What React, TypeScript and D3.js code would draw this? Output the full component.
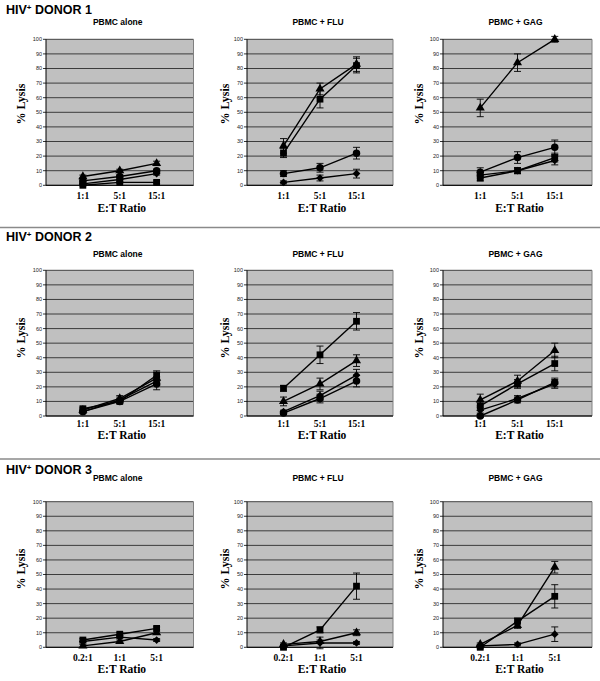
import * as d3 from 'd3';

const ratiosHigh = ['1:1', '5:1', '15:1'];
const ratiosLow = ['0.2:1', '1:1', '5:1'];
const yTicks = [0, 10, 20, 30, 40, 50, 60, 70, 80, 90, 100];
const seriesMarkers = ['diamond', 'square', 'triangle', 'circle'];
const donorLabels = ['DONOR 1', 'DONOR 2', 'DONOR 3'];
const conditionLabels = ['PBMC alone', 'PBMC + FLU', 'PBMC + GAG'];

// values per series, in the order of seriesMarkers
const donor1Alone = [[1, 4, 8], [0, 2, 2], [6, 10, 15], [3, 6, 10]];
const donor1AloneErr = [[0.5, 1, 1], [0.5, 0.5, 1], [1, 1, 1.5], [0.5, 1, 1]];
const donor1Flu = [[2, 5, 8], [22, 59, 82], [27, 66, 83], [8, 12, 22]];
const donor1FluErr = [[1, 2, 3], [3, 6, 5], [5, 4, 5], [2, 3, 4]];
const donor1Gag = [[7, 10, 17], [5, 10, 19], [53, 84, 100], [9, 19, 26]];
const donor1GagErr = [[2, 2, 3], [2, 2, 3], [6, 6, 2], [3, 4, 5]];

const donor2Alone = [[3, 11, 24], [5, 10, 28], [4, 12, 26], [3, 10, 22]];
const donor2AloneErr = [[1, 2, 3], [1, 1, 3], [1, 2, 4], [1, 1, 4]];
const donor2Flu = [[3, 14, 28], [19, 42, 65], [10, 22, 38], [2, 12, 24]];
const donor2FluErr = [[1, 3, 4], [2, 6, 6], [3, 4, 4], [1, 3, 4]];
const donor2Gag = [[4, 12, 22], [7, 22, 36], [11, 24, 45], [0, 11, 23]];
const donor2GagErr = [[2, 2, 3], [3, 3, 5], [4, 4, 5], [1, 2, 3]];

// donor 3: diamond, square, triangle only
const donor3Alone = [[4, 7, 5], [5, 9, 13], [1, 4, 10]];
const donor3AloneErr = [[1, 1, 1], [1, 1, 1], [1, 1, 1]];
const donor3Flu = [[1, 3, 3], [0, 12, 42], [2, 4, 10]];
const donor3FluErr = [[1, 4, 1], [1, 2, 9], [1, 1, 2]];
const donor3Gag = [[1, 2, 9], [0, 18, 35], [2, 15, 55]];
const donor3GagErr = [[1, 1, 5], [1, 2, 8], [1, 2, 4]];

const panelValues = [
  [donor1Alone, donor1Flu, donor1Gag],
  [donor2Alone, donor2Flu, donor2Gag],
  [donor3Alone, donor3Flu, donor3Gag]
];
const panelErrors = [
  [donor1AloneErr, donor1FluErr, donor1GagErr],
  [donor2AloneErr, donor2FluErr, donor2GagErr],
  [donor3AloneErr, donor3FluErr, donor3GagErr]
];
const rowCategories = [ratiosHigh, ratiosHigh, ratiosLow];

// layout
const colLeft = [46, 247, 443];
const colRight = [193.5, 393, 592];
const rowTop = [39.3, 270.3, 501.7];
const rowBottom = [185.3, 416, 647.3];
const donorTitleY = [14, 241, 474];
const panelTitleY = [24.5, 256.5, 481];
const tickLabelY = [198.7, 426.7, 660.7];
const axisTitleY = [212, 439.3, 673];
const lysisX = [20.5, 224.5, 418.5];
const lysisY = [104, 338, 569];
const separatorY = [227.5, 459];

const sans = '"Liberation Sans", Arial, sans-serif';
const serif = '"Liberation Serif", "Times New Roman", serif';

const markerPath = (kind: string) => {
  if (kind === 'diamond') return d3.symbol(d3.symbolSquare, 30)()!;
  if (kind === 'square') return d3.symbol(d3.symbolSquare, 46)()!;
  if (kind === 'triangle') return d3.symbol(d3.symbolTriangle, 36)()!;
  return d3.symbol(d3.symbolCircle, 44)()!;
};

interface PanelProps {
  row: number;
  col: number;
}

function Panel({ row, col }: PanelProps) {
  const left = colLeft[col];
  const right = colRight[col];
  const top = rowTop[row];
  const bottom = rowBottom[row];
  const categories = rowCategories[row];
  const values = panelValues[row][col];
  const errors = panelErrors[row][col];

  const xScale = d3
    .scalePoint<string>()
    .domain(['_start', ...categories, '_end'])
    .range([left, right]);
  const yScale = d3.scaleLinear().domain([0, 100]).range([bottom, top]);

  const line = d3
    .line<number>()
    .x((_, i) => xScale(categories[i])!)
    .y((v) => yScale(v));

  const cx = (left + right) / 2;

  return (
    <g>
      <text
        x={cx - 2}
        y={panelTitleY[row]}
        textAnchor="middle"
        fontFamily={sans}
        fontWeight="bold"
        fontSize="8.5px"
      >
        {conditionLabels[col]}
      </text>
      <rect x={left} y={top} width={right - left} height={bottom - top} fill="#c0c0c0" />
      {yTicks.map((t) => (
        <line
          key={`g${t}`}
          x1={left}
          x2={right}
          y1={yScale(t)}
          y2={yScale(t)}
          stroke="#1a1a1a"
          strokeWidth={0.8}
        />
      ))}
      <line x1={right} x2={right} y1={top} y2={bottom} stroke="#808080" strokeWidth={1} />
      <line x1={left} x2={left} y1={top} y2={bottom} stroke="#000" strokeWidth={1} />
      <line x1={left} x2={right} y1={bottom} y2={bottom} stroke="#000" strokeWidth={1} />
      {yTicks.map((t) => (
        <g key={`t${t}`}>
          <line x1={left - 3} x2={left} y1={yScale(t)} y2={yScale(t)} stroke="#000" strokeWidth={0.8} />
          <text
            x={left - 4}
            y={yScale(t)}
            dy="0.35em"
            textAnchor="end"
            fontFamily={sans}
            fontSize="5.5px"
            fill="#222"
          >
            {t}
          </text>
        </g>
      ))}
      {categories.map((c) => (
        <text
          key={c}
          x={xScale(c)!}
          y={tickLabelY[row]}
          textAnchor="middle"
          fontFamily={serif}
          fontWeight="bold"
          fontSize="9.5px"
        >
          {c}
        </text>
      ))}
      <text
        x={cx + 2}
        y={axisTitleY[row]}
        textAnchor="middle"
        fontFamily={serif}
        fontWeight="bold"
        fontSize="11.5px"
      >
        E:T Ratio
      </text>
      <text
        transform={`translate(${lysisX[col]},${lysisY[row]}) rotate(-90)`}
        dy="0.35em"
        textAnchor="middle"
        fontFamily={serif}
        fontWeight="bold"
        fontSize="12px"
      >
        % Lysis
      </text>
      {values.map((series, s) => (
        <g key={s}>
          {series.map((v, i) => {
            const px = xScale(categories[i])!;
            const e = errors[s][i];
            return (
              <g key={i} stroke="#000" strokeWidth={0.9}>
                <line x1={px} x2={px} y1={yScale(v - e)} y2={yScale(v + e)} />
                <line x1={px - 3.5} x2={px + 3.5} y1={yScale(v - e)} y2={yScale(v - e)} />
                <line x1={px - 3.5} x2={px + 3.5} y1={yScale(v + e)} y2={yScale(v + e)} />
              </g>
            );
          })}
          <path d={line(series)!} fill="none" stroke="#000" strokeWidth={1.4} />
          {series.map((v, i) => (
            <path
              key={i}
              d={markerPath(seriesMarkers[s])}
              transform={`translate(${xScale(categories[i])},${yScale(v)})${
                seriesMarkers[s] === 'diamond' ? ' rotate(45)' : ''
              }`}
              fill="#000"
            />
          ))}
        </g>
      ))}
    </g>
  );
}

export default function App() {
  return (
    <svg
      width={600}
      height={681}
      style={{ position: 'absolute', left: 0, top: 0, background: '#fff' }}
    >
      {separatorY.map((y) => (
        <line key={y} x1={0} x2={600} y1={y} y2={y} stroke="#8a8a8a" strokeWidth={1.3} />
      ))}
      {donorLabels.map((label, r) => (
        <text
          key={label}
          x={6}
          y={donorTitleY[r]}
          fontFamily={sans}
          fontWeight="bold"
          fontSize="12.5px"
        >
          HIV
          <tspan fontSize="8px" dy="-4.5">
            +
          </tspan>
          <tspan dy="4.5"> {label}</tspan>
        </text>
      ))}
      {[0, 1, 2].map((r) =>
        [0, 1, 2].map((c) => <Panel key={`${r}-${c}`} row={r} col={c} />)
      )}
    </svg>
  );
}
